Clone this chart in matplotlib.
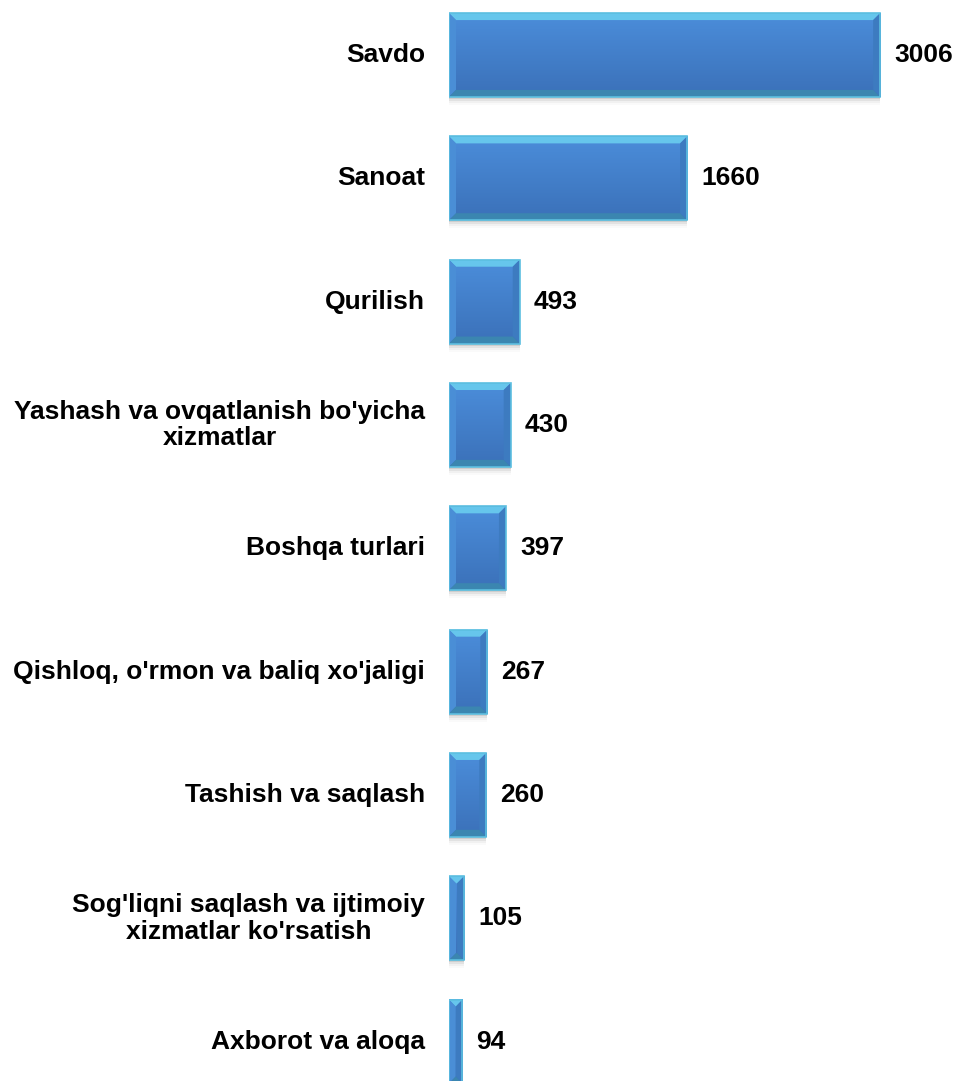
import numpy as np
import matplotlib.pyplot as plt
from matplotlib.colors import LinearSegmentedColormap
from matplotlib.patches import Polygon, Rectangle

# data
categories = ['Savdo', 'Sanoat', 'Qurilish',
              "Yashash va ovqatlanish bo'yicha\nxizmatlar",
              'Boshqa turlari',
              "Qishloq, o'rmon va baliq xo'jaligi",
              'Tashish va saqlash',
              "Sog'liqni saqlash va ijtimoiy\nxizmatlar ko'rsatish",
              'Axborot va aloqa']
values = [3006, 1660, 493, 430, 397, 267, 260, 105, 94]

plt.rcParams['font.family'] = ['Liberation Sans', 'DejaVu Sans']

fig = plt.figure(figsize=(9.55, 10.81), dpi=100)
ax = fig.add_axes([449 / 955, 0, 502 / 955, 1])
ax.set_xlim(0, 3500)
ax.set_ylim(8.32, -0.446)
ax.axis('off')

h = 0.68
px_x = 3500 / 502      # data units per pixel, x
px_y = 8.766 / 1081    # data units per pixel, y
grad = np.linspace(0, 1, 50).reshape(-1, 1)
face = LinearSegmentedColormap.from_list('face', ['#4B8DDA', '#3B71B9'])

for i, (cat, v) in enumerate(zip(categories, values)):
    y0, y1 = i - h / 2, i + h / 2
    # soft shadow under the bar
    for k, a in enumerate([0.09, 0.06, 0.035, 0.02]):
        ax.add_patch(Rectangle((0, y1), v, (k + 1) * 2 * px_y, color='black',
                               alpha=a, lw=0, zorder=1))
    bx = min(7 * px_x, v / 2)
    by = 7 * px_y
    # face gradient
    ax.imshow(grad, extent=(0, v, y1, y0), aspect='auto', cmap=face,
              zorder=2, interpolation='bilinear')
    # bevel edges
    ax.add_patch(Polygon([(0, y0), (v, y0), (v - bx, y0 + by), (bx, y0 + by)],
                         color='#66C6EC', lw=0, zorder=3))
    ax.add_patch(Polygon([(0, y0), (bx, y0 + by), (bx, y1 - by), (0, y1)],
                         color='#4A8ED6', lw=0, zorder=3))
    ax.add_patch(Polygon([(v, y0), (v - bx, y0 + by), (v - bx, y1 - by), (v, y1)],
                         color='#3D7BC0', lw=0, zorder=3))
    ax.add_patch(Polygon([(0, y1), (bx, y1 - by), (v - bx, y1 - by), (v, y1)],
                         color='#3B86B0', lw=0, zorder=3))
    ax.add_patch(Rectangle((0, y0), v, h, fill=False, ec='#5CBFE0', lw=1.2, zorder=4))

    ax.text(v + 14 * px_x, i, str(v), ha='left', va='center', fontsize=19,
            fontweight='bold', color='black')
    ax.text(-24 * px_x, i, cat, ha='right', va='center', fontsize=19,
            fontweight='bold', color='black', multialignment='center',
            linespacing=1.15)

fig.savefig('out.png', dpi=100)
